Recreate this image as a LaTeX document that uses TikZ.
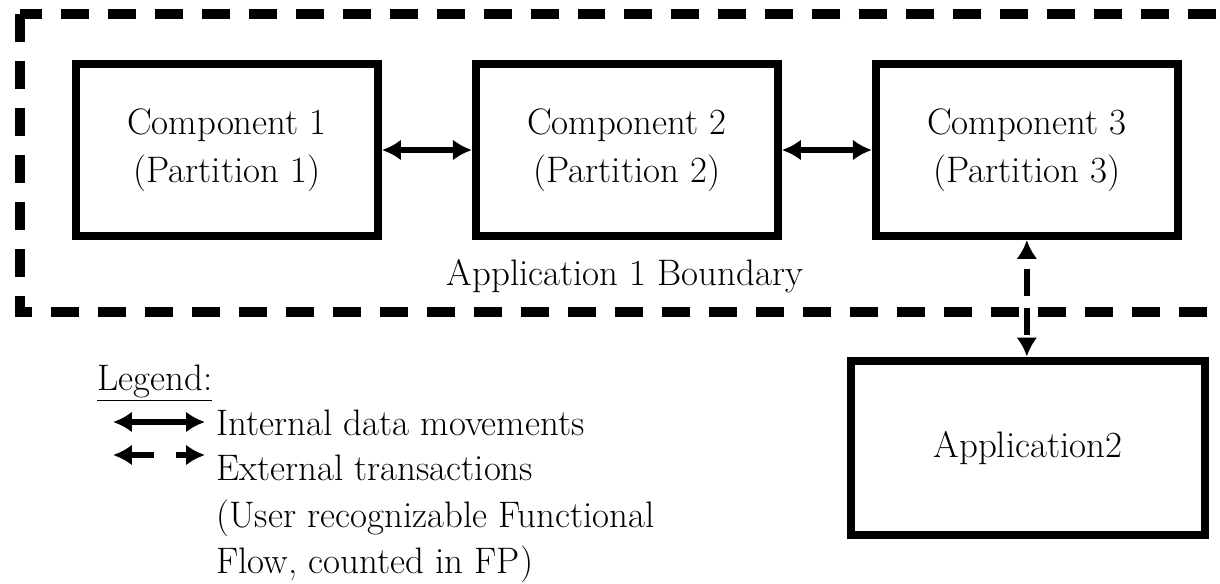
\documentclass[tikz,border=0pt]{standalone}
\usepackage{fontspec}
\usetikzlibrary{arrows.meta,positioning}

\begin{document}
\begin{tikzpicture}[x=0.02cm,y=-0.02cm,node distance=1.8cm,
    box/.style={draw,line width=0.16cm,minimum width=6.04cm,minimum height=3.44cm,
      align=center,font=\fontsize{21}{27}\selectfont},
    flow/.style={<->,>={Latex[length=0.38cm,width=0.42cm]},line width=0.12cm},
    ext/.style={flow,dash pattern=on 0.54cm off 0.24cm,dash phase=0.54cm},
    extkey/.style={flow,dash pattern=on 0.48cm off 0.44cm},
    lgd/.style={anchor=base west,inner sep=0pt,font=\fontsize{21}{27}\selectfont}]

  \useasboundingbox (0,0) rectangle (1220,584);
  \clip (0,0) rectangle (1220,584);

  % application 1 boundary
  \draw[line width=0.19cm,dash pattern=on 0.56cm off 0.38cm] (20,14) rectangle (1260,312);

  \node[box] (c1) at (227,150) {Component 1\\(Partition 1)};
  \node[box,right=of c1] (c2) {Component 2\\(Partition 2)};
  \node[box,right=of c2] (c3) {Component 3\\(Partition 3)};
  \node[anchor=base,font=\fontsize{21}{27}\selectfont] (bnd) at (625,285) {Application 1 Boundary};
  \node[box,minimum width=7.1cm,minimum height=3.5cm] (app2) at (1028,448) {Application2};

  \draw[flow] (c1) -- (c2);
  \draw[flow] (c2) -- (c3);
  \draw[ext] (c3.south) -- (c3.south |- app2.north);

  % legend
  \node[lgd] (lg) at (97,390) {\underline{Legend:}};
  \coordinate (ia) at (113,422);
  \coordinate (ib) at (205,422);
  \coordinate (ea) at (113,455);
  \coordinate (eb) at (205,455);
  \draw[flow] (ia) -- (ib);
  \draw[extkey] (ea) -- (eb);
  \node[lgd] (l1) at (216,435) {Internal data movements};
  \node[lgd] (l2) at (216,480) {External transactions};
  \node[lgd] (l3) at (216,527) {(User recognizable Functional};
  \node[lgd] (l4) at (216,573) {Flow, counted in FP)};
\end{tikzpicture}
\end{document}
